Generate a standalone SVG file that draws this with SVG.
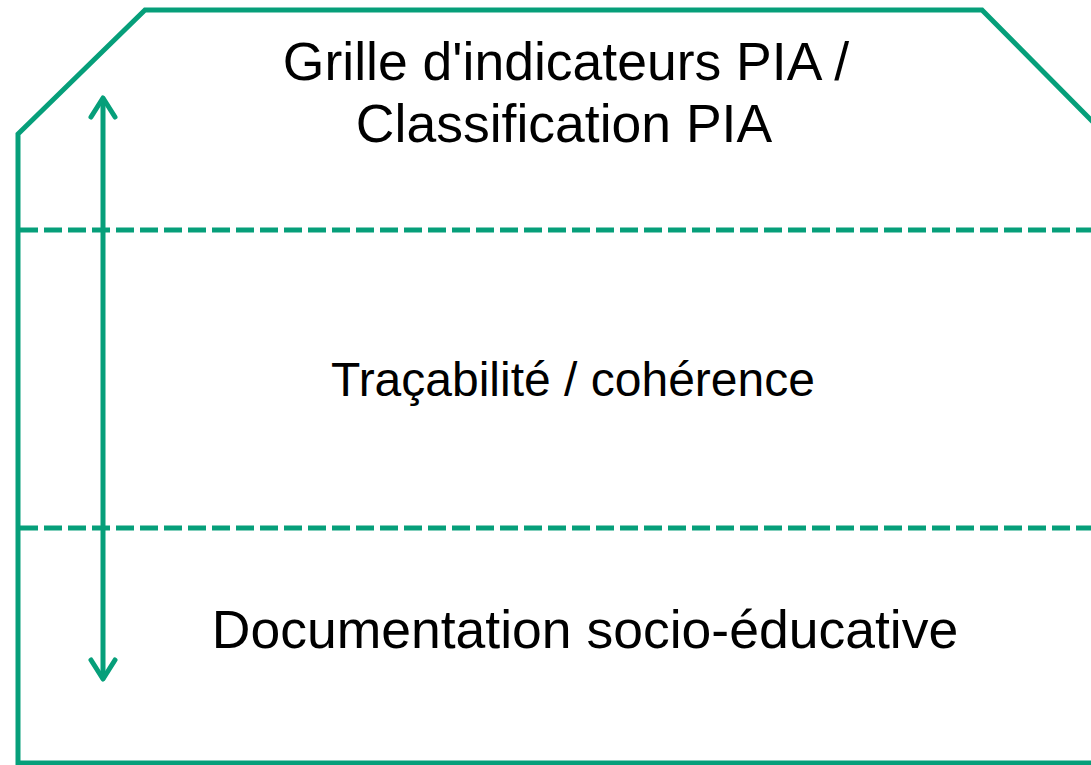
<svg xmlns="http://www.w3.org/2000/svg" width="1091" height="765" viewBox="0 0 1091 765">
<style>
.ln{fill:none;stroke:#069f7a;stroke-width:5}
.ds{fill:none;stroke:#069f7a;stroke-width:5;stroke-dasharray:18 6}
.ar{fill:none;stroke:#069f7a;stroke-width:5;stroke-linecap:round;stroke-linejoin:round}
.t{font-family:"Liberation Sans",Arial,sans-serif;font-size:53.5px;fill:#000;text-anchor:middle}
.m{font-size:48px}
</style>
<rect width="1091" height="765" fill="#fff"/>
<g id="frame">
<path class="ln" d="M18,765 L18,134 L145,10 L982,10 L1095,124"/>
<path class="ln" d="M18,763 L1095,763"/>
</g>
<g id="layer-top"><text class="t" x="566" y="80">Grille d'indicateurs PIA /</text><text class="t" x="564" y="142">Classification PIA</text></g>
<g id="layer-mid"><text class="t m" x="573" y="396">Traçabilité / cohérence</text></g>
<g id="layer-bottom"><text class="t" x="585" y="648">Documentation socio-éducative</text></g>
<g id="connectors">
<path class="ds" d="M20,230 L1091,230"/>
<path class="ds" d="M20,528 L1091,528"/>
<path class="ar" d="M103,99 L103,678"/>
<path class="ar" d="M91,117 L103,98 L115,117"/>
<path class="ar" d="M91,660 L103,679 L115,660"/>
</g>
</svg>
